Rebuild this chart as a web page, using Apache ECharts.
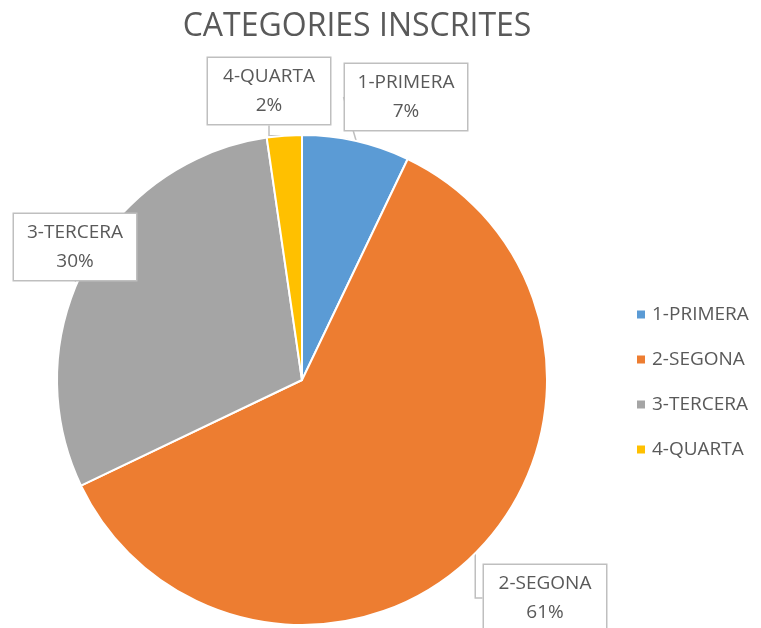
<!DOCTYPE html>
<html>
<head>
<meta charset="utf-8">
<script src="https://cdn.jsdelivr.net/npm/echarts@6/dist/echarts.min.js"></script>
<style>
  html, body { margin: 0; padding: 0; background: #fff; }
  #chart { width: 761px; height: 628px; }
</style>
</head>
<body>
<div id="chart"></div>
<script>
// categories and shares
var categories = ['1-PRIMERA', '2-SEGONA', '3-TERCERA', '4-QUARTA'];
var values = [7.1, 60.8, 29.8, 2.3];
var colors = ['#5b9bd5', '#ed7d31', '#a5a5a5', '#ffc000'];

// where each callout box sits (centre), same order as categories
var labelSpots = [[406, 97], [545, 598], [75, 247], [269, 91]];

var dom = document.getElementById('chart');
var myChart = echarts.init(dom);

var pieData = categories.map(function (name, i) {
    return { name: name, value: values[i], itemStyle: { color: colors[i] } };
});

var option = {
    animation: false,
    title: {
        text: 'CATEGORIES INSCRITES',
        left: 352,
        top: 6,
        textAlign: 'center',
        textStyle: {
            fontFamily: 'Open Sans, sans-serif',
            fontSize: 32,
            fontWeight: 'normal',
            color: '#595959'
        }
    },
    legend: {
        orient: 'vertical',
        left: 630,
        top: 300,
        itemGap: 26,
        itemWidth: 10,
        itemHeight: 10,
        icon: 'rect',
        data: categories,
        textStyle: {
            fontFamily: 'Open Sans, sans-serif',
            fontSize: 19,
            color: '#595959',
            padding: [0, 0, 0, 1]
        }
    },
    series: [
        {
            type: 'pie',
            center: [302, 380],
            radius: 245,
            startAngle: 90,
            clockwise: true,
            percentPrecision: 0,
            data: pieData,
            itemStyle: {
                borderColor: '#fff',
                borderWidth: 2
            },
            label: {
                show: true,
                position: 'outside',
                alignTo: 'none',
                overflow: 'none',
                width: 106,
                formatter: '{b}\n{d}%',
                fontFamily: 'Open Sans, sans-serif',
                fontSize: 19,
                lineHeight: 29,
                color: '#595959',
                backgroundColor: '#fff',
                borderColor: '#bfbfbf',
                borderWidth: 1.5,
                padding: [5, 8, 3, 8],
                align: 'center'
            },
            labelLine: {
                show: true,
                length: 10,
                length2: 10,
                lineStyle: { color: '#bfbfbf', width: 1.5 }
            },
            labelLayout: function (params) {
                var spot = labelSpots[params.dataIndex];
                return {
                    x: spot[0],
                    y: spot[1],
                    align: 'center',
                    verticalAlign: 'middle'
                };
            }
        }
    ]
};

myChart.setOption(option);
</script>
</body>
</html>
